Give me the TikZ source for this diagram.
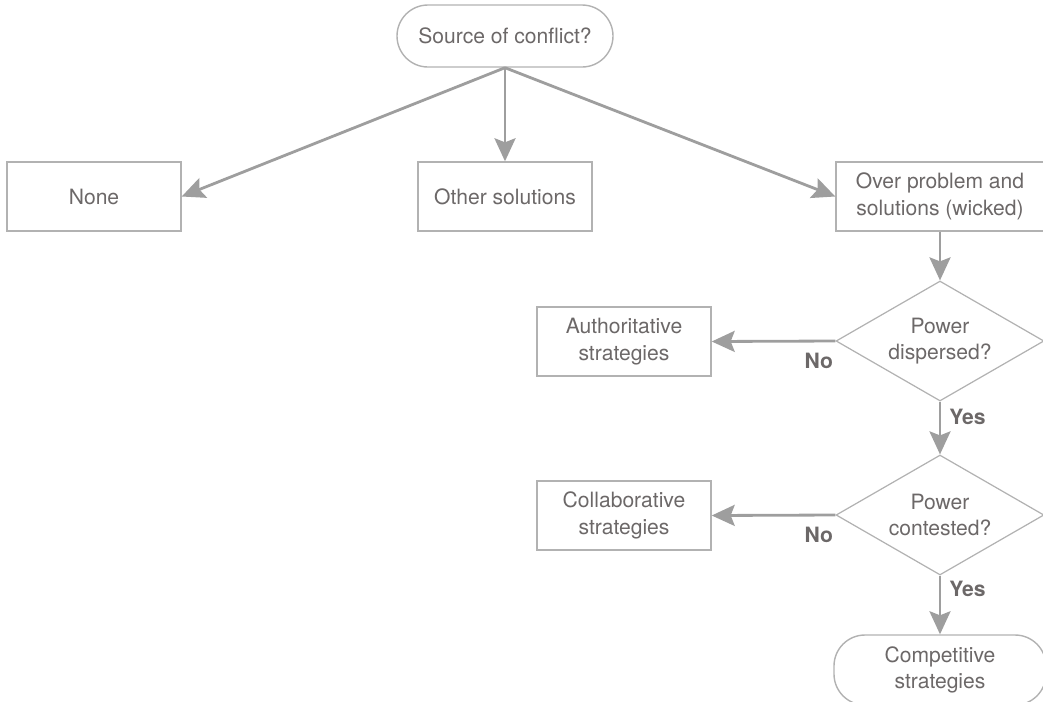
\documentclass[tikz,border=0pt]{standalone}
\usepackage{fontspec}
\setmainfont{TeX Gyre Heros}
\usepackage{tikz}
\usetikzlibrary{arrows.meta, positioning, shapes.geometric}
\definecolor{textgrey}{RGB}{108,104,104}
\definecolor{linegrey}{RGB}{178,178,178}
\definecolor{arrowgrey}{RGB}{158,158,158}

\begin{document}
\begin{tikzpicture}[font=\fontsize{12}{15}\selectfont, text=textgrey,
	box/.style={draw=linegrey, line width=0.8pt, minimum width=3.48cm, minimum height=1.38cm, align=center, inner sep=0pt},
	terminal/.style={box, rounded corners=0.62cm},
	decision/.style={diamond, aspect=1.73, draw=linegrey, line width=0.7pt, minimum width=4.16cm, minimum height=2.4cm, align=center, inner sep=0pt},
	flow/.style={-{Stealth[length=0.46cm, width=0.42cm, inset=0.08cm]}, arrowgrey, line width=1.6pt},
	answer/.style={font=\fontsize{12}{15}\selectfont\bfseries, inner sep=0pt}]
	\useasboundingbox (0,0) rectangle (20.86,-14.02);
	% top row
	\node[terminal, minimum width=4.32cm, minimum height=1.24cm] (source) at (10.10,-0.72) {Source of conflict?};
	\node[box] (none) at (1.88,-3.93) {None};
	\node[box] (other) at (10.10,-3.93) {Other solutions};
	\node[box, minimum width=4.16cm] (wicked) at (18.80,-3.93) {Over problem and\\solutions (wicked)};
	% decisions
	\node[decision] (dispersed) at (18.80,-6.82) {Power\\dispersed?};
	\node[decision] (contested) at (18.80,-10.30) {Power\\contested?};
	% outcomes
	\node[box] (authoritative) at (12.48,-6.83) {Authoritative\\strategies};
	\node[box] (collaborative) at (12.48,-10.31) {Collaborative\\strategies};
	\node[terminal, minimum width=4.24cm, minimum height=1.40cm] (competitive) at (18.80,-13.40) {Competitive\\strategies};
	% answers
	\node[answer, below left=0.24cm and 0.04cm of dispersed.west] (dispno) {No};
	\node[answer, below right=0.14cm and 0.18cm of dispersed.south] (dispyes) {Yes};
	\node[answer, below left=0.24cm and 0.04cm of contested.west] (contno) {No};
	\node[answer, below right=0.10cm and 0.18cm of contested.south] (contyes) {Yes};
	% arrows
	\draw[flow] (source.south) -- (none.east);
	\draw[flow] (source.south) -- (other.north);
	\draw[flow] (source.south) -- (wicked.west);
	\draw[flow] (wicked.south) -- (dispersed.north);
	\draw[flow] (dispersed.west) -- (authoritative.east);
	\draw[flow] (dispersed.south) -- (contested.north);
	\draw[flow] (contested.west) -- (collaborative.east);
	\draw[flow] (contested.south) -- (competitive.north);
\end{tikzpicture}
\end{document}
